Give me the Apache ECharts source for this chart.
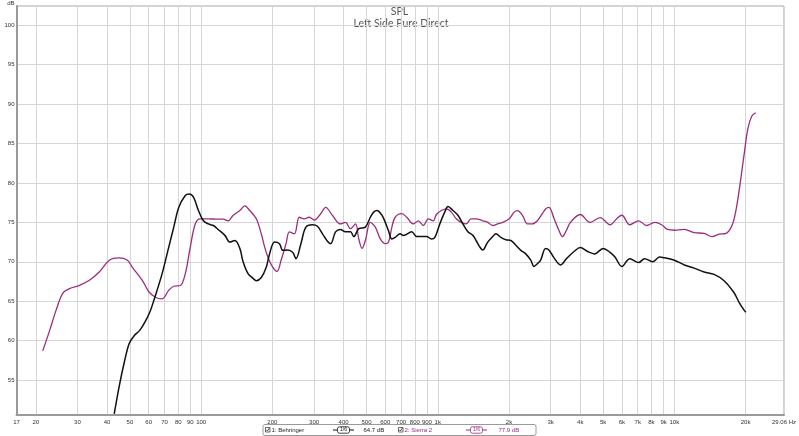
<!DOCTYPE html>
<html>
<head>
<meta charset="utf-8">
<script src="https://cdn.jsdelivr.net/npm/echarts@6/dist/echarts.min.js"></script>
<style>html,body{margin:0;padding:0;background:#fff;}#chart{width:799px;height:436px;}</style>
</head>
<body>
<div id="chart"></div>
<script>
// ---- data ----
var behringerFreq = [42.9,45.0,47.2,49.6,52,55,58,61,63.1,68.4,73.0,76.6,80.4,85.7,89.0,92.8,97.4,102.2,107.3,112.6,118,126,132.3,138.8,145.7,150.4,157.8,165.6,171,179.5,188.4,194.6,204.3,214.3,221.3,232.2,243.6,251.7,264,277.1,295.6,310.1,325.6,341.7,352.6,370,388,407,427.7,441.7,463.6,494,519,536,553.5,580.8,600,619.6,639.8,660.6,693,716,776,814.6,897,941,972,1020,1070,1105,1160,1217,1277,1341,1407,1452,1500,1549,1626,1707,1762,1849,1941,2037,2137,2244,2355,2472,2551,2636,2721,2856,2950,3100,3300,3500,3800,4000,4300,4600,5000,5346,5611,5999,6478,7063,7482,8090,8661,9089,10000,11014,12130,13360,14715,16220,17850,18740,19670,20050];
var behringerDb = [50.7,54.15,57.1,59.6,60.6,61.3,62.4,63.8,65.1,68.5,71.9,74.4,76.9,78.4,78.6,78.2,76.5,75.2,74.8,74.6,74.1,73.35,72.5,72.7,71.7,70.0,68.5,67.9,67.6,68.0,69.3,71.0,72.5,72.3,71.45,71.5,71.2,70.4,72.3,74.4,74.7,74.5,73.55,72.6,72.3,73.8,74.1,73.8,73.8,73.2,74.2,74.4,75.65,76.3,76.5,75.9,75.0,73.9,72.9,73.1,73.55,73.35,73.8,73.2,73.2,72.9,73.1,74.8,76.3,77.0,76.5,75.9,74.8,73.8,73.35,72.7,71.95,71.5,72.5,73.2,73.55,73.1,72.8,72.7,72.1,71.45,71.0,70.2,69.4,69.75,70.2,71.7,71.5,70.5,69.6,70.4,71.4,71.8,71.3,71.0,71.7,71.2,70.6,69.4,70.4,69.9,70.4,70.0,70.6,70.5,70.2,69.6,69.2,68.7,68.4,67.6,66.1,64.9,63.9,63.6];

var sierraFreq = [21.4,22.9,24.4,26.0,27.8,30.6,33.7,37.1,40.9,45.0,48.8,51.2,56.4,60.1,64.1,68.4,73.0,76.6,81.7,85.7,90.0,94.4,99.0,107.3,118,124,130,136.6,145.7,152.9,160.5,171,179.5,185.4,191.5,200.9,209.4,217.7,228.5,236,247.7,260,272.9,286.3,300.5,320,336,358.5,388,407.4,427.7,449,463.6,478.7,494.3,518.9,544.6,571.7,600,619.6,639.8,660.6,704.6,739.6,788.9,828,869,912,957,987,1036,1087,1141,1197,1256,1318,1383,1452,1549,1626,1707,1791,1880,2004,2103,2173,2280,2393,2511,2636,2766,2856,2950,3100,3250,3365,3500,3636,4000,4406,4853,5346,5721,5999,6478,7063,7632,8253,8832,9355,10000,11014,12130,13360,14430,15450,16530,17520,18200,18920,19670,20450,21260,22080];
var sierraDb = [58.7,61.3,63.9,66.0,66.6,67.0,67.65,68.7,70.2,70.5,70.2,69.3,67.65,66.2,65.5,65.3,66.4,66.9,67.0,68.5,71.9,74.8,75.45,75.45,75.4,75.4,75.2,75.9,76.5,77.1,76.5,75.45,73.55,71.9,70.6,69.3,68.8,70.2,72.3,73.8,73.55,75.65,75.45,75.65,75.3,76.1,76.9,75.9,74.8,75.0,74.2,74.8,72.9,71.7,72.7,75.0,74.4,72.9,72.3,72.5,74.4,75.65,76.1,75.65,74.8,75.2,74.6,75.45,75.2,76.0,76.5,76.7,76.3,75.45,75.0,74.8,75.45,75.45,75.2,75.0,74.6,74.8,75.0,75.45,76.3,76.5,75.9,74.8,74.8,75.2,76.1,76.7,76.9,75.5,74.0,73.2,74.0,75.0,76.0,75.0,75.6,74.7,75.5,75.9,74.7,75.2,74.6,75.0,74.7,74.1,74.0,74.1,73.7,73.6,73.2,73.5,73.6,74.6,76.5,79.7,83.4,86.9,88.5,88.9];

var xTickFreqs  = [16.58,20,30,40,50,60,70,80,90,100,200,300,400,500,600,700,800,900,1000,2000,3000,4000,5000,6000,7000,8000,9000,10000,20000,29060];
var xTickLabels = ['17','20','30','40','50','60','70','80','90','100','200','300','400','500','600','700','800','900','1k','2k','3k','4k','5k','6k','7k','8k','9k','10k','20k','29.06 Hz'];
var yTicks = [55,60,65,70,75,80,85,90,95,100];

var xMin = 16.58, xMax = 29060, yMin = 50.57, yMax = 102.44;

// ---- build ----
function pairs(f, v){ return f.map(function(x,i){ return [x, v[i]]; }); }
var xTickLog = xTickFreqs.map(function(f){ return Math.log10(f); });
function xLabelFor(v){
  var best = 0, bd = 1e9;
  for (var i=0;i<xTickLog.length;i++){ var d=Math.abs(xTickLog[i]-v); if(d<bd){bd=d;best=i;} }
  return xTickLabels[best];
}

var purple = '#9c2d7d';
var chart = echarts.init(document.getElementById('chart'), null, {renderer:'canvas'});
var tinyFont = 'Liberation Sans';

var option = {
  backgroundColor: '#ffffff',
  animation: false,
  grid: { left: 16.5, right: 8.5, top: 5, bottom: 21, show: true, borderColor: '#a8a8a8', borderWidth: 1, backgroundColor: '#fff' },
  xAxis: [
    { type: 'log', min: xMin, max: xMax, show: false, splitLine: {show:false} },
    { type: 'value', min: Math.log10(xMin), max: Math.log10(xMax), position: 'bottom',
      axisLine: { show: true, lineStyle: { color: '#9a9a9a', width: 2 } },
      axisTick: { show: false, customValues: xTickLog },
      axisLabel: { customValues: xTickLog, formatter: function(v){ return xLabelFor(v); },
                   fontSize: 6, color: '#333', margin: 4, fontFamily: tinyFont, hideOverlap: false },
      splitLine: { show: true, lineStyle: { color: '#d6d6d6', width: 1 } }
    }
  ],
  yAxis: {
    type: 'value', min: yMin, max: yMax, name: 'dB', nameLocation: 'end', nameGap: 0,
    nameTextStyle: { fontSize: 6, color: '#333', fontFamily: tinyFont, align: 'right', verticalAlign: 'bottom', padding: [0,2,0,0] },
    axisLine: { show: true, lineStyle: { color: '#9a9a9a', width: 2 } },
    axisTick: { show: false, customValues: yTicks },
    axisLabel: { customValues: yTicks, fontSize: 6, color: '#333', margin: 2, fontFamily: tinyFont },
    splitLine: { show: true, lineStyle: { color: '#d6d6d6', width: 1 } }
  },
  series: [
    { name: '1: Behringer', type: 'line', xAxisIndex: 0, data: pairs(behringerFreq, behringerDb),
      showSymbol: false, smooth: 0.35, lineStyle: { color: '#111', width: 1.5 }, itemStyle: {color:'#111'}, z: 3 },
    { name: '2: Sierra 2', type: 'line', xAxisIndex: 0, data: pairs(sierraFreq, sierraDb),
      showSymbol: false, smooth: 0.35, lineStyle: { color: purple, width: 1.3 }, itemStyle: {color: purple}, z: 2 }
  ],
  graphic: [
    { type: 'text', left: 'center', top: 6, style: { text: 'SPL', fontSize: 10.5, fill: '#555', fontFamily: 'Lato' } },
    { type: 'text', x: 401, y: 18, style: { text: 'Left Side Pure Direct', fontSize: 10.5, fill: '#555', fontFamily: 'Lato', textAlign: 'center' } },
    // legend box
    { type: 'rect', shape: { x: 263, y: 424.5, width: 273, height: 11, r: 2 }, style: { fill: '#fff', stroke: '#9a9a9a', lineWidth: 1 } },
    { type: 'rect', shape: { x: 265.5, y: 427.5, width: 4.5, height: 4.5 }, style: { fill: '#fff', stroke: '#444', lineWidth: 0.8 } },
    { type: 'polyline', shape: { points: [[266.3,429.8],[267.4,431],[269.4,428]] }, style: { stroke: '#222', lineWidth: 0.8, fill: null } },
    { type: 'text', x: 271.5, y: 430, style: { text: '1: Behringer', fontSize: 6, fill: '#222', fontFamily: tinyFont, verticalAlign: 'middle' } },
    { type: 'line', shape: { x1: 333, y1: 430, x2: 354, y2: 430 }, style: { stroke: '#111', lineWidth: 1 } },
    { type: 'rect', shape: { x: 337.5, y: 426.8, width: 12, height: 6.4, r: 2 }, style: { fill: '#fff', stroke: '#111', lineWidth: 0.8 } },
    { type: 'text', x: 343.5, y: 430, style: { text: '1/6', fontSize: 5, fill: '#111', fontFamily: tinyFont, textAlign: 'center', verticalAlign: 'middle' } },
    { type: 'text', x: 363.5, y: 430, style: { text: '64.7 dB', fontSize: 6, fill: '#222', fontFamily: tinyFont, verticalAlign: 'middle' } },
    { type: 'rect', shape: { x: 398.5, y: 427.5, width: 4.5, height: 4.5 }, style: { fill: '#fff', stroke: '#444', lineWidth: 0.8 } },
    { type: 'polyline', shape: { points: [[399.3,429.8],[400.4,431],[402.4,428]] }, style: { stroke: '#222', lineWidth: 0.8, fill: null } },
    { type: 'text', x: 404.5, y: 430, style: { text: '2: Sierra 2', fontSize: 6, fill: purple, fontFamily: tinyFont, verticalAlign: 'middle' } },
    { type: 'line', shape: { x1: 466, y1: 430, x2: 487, y2: 430 }, style: { stroke: purple, lineWidth: 1 } },
    { type: 'rect', shape: { x: 470.5, y: 426.8, width: 12, height: 6.4, r: 2 }, style: { fill: '#fff', stroke: purple, lineWidth: 0.8 } },
    { type: 'text', x: 476.5, y: 430, style: { text: '1/6', fontSize: 5, fill: purple, fontFamily: tinyFont, textAlign: 'center', verticalAlign: 'middle' } },
    { type: 'text', x: 498.5, y: 430, style: { text: '77.9 dB', fontSize: 6, fill: purple, fontFamily: tinyFont, verticalAlign: 'middle' } }
  ]
};
chart.setOption(option);
</script>
</body>
</html>
